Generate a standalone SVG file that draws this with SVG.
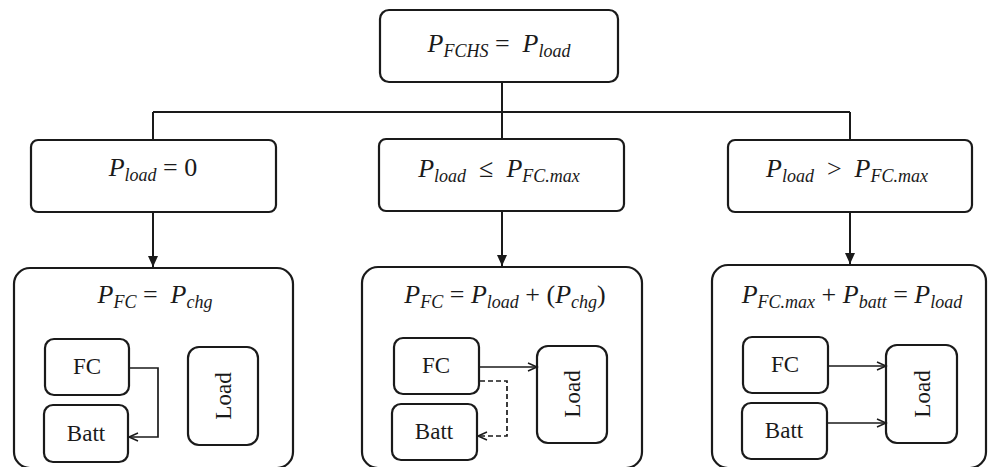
<svg xmlns="http://www.w3.org/2000/svg" width="989" height="467" viewBox="0 0 989 467">
<style>
.box{fill:#fff;stroke:#1a1a1a;stroke-width:2.2}
.in{fill:#fff;stroke:#1a1a1a;stroke-width:2.2}
.ln{fill:none;stroke:#1a1a1a;stroke-width:2}
.thin{fill:none;stroke:#1a1a1a;stroke-width:1.7}
.dash{fill:none;stroke:#1a1a1a;stroke-width:1.7;stroke-dasharray:5,3}
.m{font-family:"Liberation Serif",serif;font-style:italic;font-size:26px;fill:#1a1a1a;white-space:pre}
.s{font-size:18px}
.op{font-style:normal}
.lb{font-family:"Liberation Serif",serif;font-size:23px;fill:#1a1a1a}
</style>
<defs>
<marker id="fa" markerUnits="userSpaceOnUse" markerWidth="12" markerHeight="12" refX="11" refY="6" orient="auto"><path d="M0,1 L11,6 L0,11 z" fill="#1a1a1a"/></marker>
<marker id="oa" markerUnits="userSpaceOnUse" markerWidth="12" markerHeight="12" refX="10" refY="6" orient="auto"><path d="M1,2 L10,6 L1,10" fill="none" stroke="#1a1a1a" stroke-width="1.5"/></marker>
</defs>
<rect width="989" height="467" fill="#fff"/>
<g id="top">
<rect class="box" x="380" y="10" width="238" height="72" rx="9"/>
<text class="m" x="499" y="52" text-anchor="middle" xml:space="preserve">P<tspan class="s" dy="5">FCHS</tspan><tspan class="op" dy="-5"> =  </tspan>P<tspan class="s" dy="5">load</tspan></text>
</g>
<g id="cond1">
<rect class="box" x="31" y="140" width="245" height="72" rx="7"/>
<text class="m" x="153" y="176" text-anchor="middle" xml:space="preserve">P<tspan class="s" dy="5">load</tspan><tspan class="op" dy="-5"> = 0</tspan></text>
</g>
<g id="cond2">
<rect class="box" x="379" y="139" width="245" height="72" rx="7"/>
<text class="m" x="499" y="177" text-anchor="middle" xml:space="preserve">P<tspan class="s" dy="5">load</tspan><tspan class="op" dy="-5">  ≤  </tspan>P<tspan class="s" dy="5">FC.max</tspan></text>
</g>
<g id="cond3">
<rect class="box" x="728" y="140" width="244" height="72" rx="7"/>
<text class="m" x="847" y="177" text-anchor="middle" xml:space="preserve">P<tspan class="s" dy="5">load</tspan><tspan class="op" dy="-5">  &gt;  </tspan>P<tspan class="s" dy="5">FC.max</tspan></text>
</g>
<g id="mode1">
<rect class="box" x="14" y="268" width="279" height="200" rx="16"/>
<text class="m" x="155" y="303" text-anchor="middle" xml:space="preserve">P<tspan class="s" dy="5">FC</tspan><tspan class="op" dy="-5"> =  </tspan>P<tspan class="s" dy="5">chg</tspan></text>
</g>
<g id="mode2">
<rect class="box" x="362" y="267" width="280" height="201" rx="16"/>
<text class="m" x="505" y="303" text-anchor="middle" xml:space="preserve">P<tspan class="s" dy="5">FC</tspan><tspan class="op" dy="-5"> = </tspan>P<tspan class="s" dy="5">load</tspan><tspan class="op" dy="-5"> + (</tspan>P<tspan class="s" dy="5">chg</tspan><tspan class="op" dy="-5">)</tspan></text>
</g>
<g id="mode3">
<rect class="box" x="712" y="265" width="274" height="203" rx="16"/>
<text class="m" x="852" y="303" text-anchor="middle" xml:space="preserve">P<tspan class="s" dy="5">FC.max</tspan><tspan class="op" dy="-5"> + </tspan>P<tspan class="s" dy="5">batt</tspan><tspan class="op" dy="-5"> = </tspan>P<tspan class="s" dy="5">load</tspan></text>
</g>
<g id="fc1"><rect class="in" x="45" y="339" width="84" height="56" rx="9"/><text class="lb" x="87" y="374" text-anchor="middle">FC</text></g>
<g id="batt1"><rect class="in" x="44" y="405" width="84" height="57" rx="9"/><text class="lb" x="86" y="441" text-anchor="middle">Batt</text></g>
<g id="load1"><rect class="in" x="188" y="347" width="70" height="98" rx="11"/><text class="lb" transform="translate(231,396) rotate(-90)" text-anchor="middle">Load</text></g>
<g id="fc2"><rect class="in" x="394" y="338" width="85" height="56" rx="9"/><text class="lb" x="436" y="373" text-anchor="middle">FC</text></g>
<g id="batt2"><rect class="in" x="392" y="404" width="85" height="56" rx="9"/><text class="lb" x="434" y="439" text-anchor="middle">Batt</text></g>
<g id="load2"><rect class="in" x="537" y="346" width="70" height="97" rx="11"/><text class="lb" transform="translate(580,394) rotate(-90)" text-anchor="middle">Load</text></g>
<g id="fc3"><rect class="in" x="743" y="337" width="85" height="56" rx="9"/><text class="lb" x="785" y="372" text-anchor="middle">FC</text></g>
<g id="batt3"><rect class="in" x="742" y="403" width="85" height="56" rx="9"/><text class="lb" x="784" y="438" text-anchor="middle">Batt</text></g>
<g id="load3"><rect class="in" x="886" y="345" width="71" height="98" rx="11"/><text class="lb" transform="translate(930,394) rotate(-90)" text-anchor="middle">Load</text></g>
<g id="connectors">
<path class="ln" d="M502,82 V112 M153,112 H850 M153,112 V140 M502,112 V139 M850,112 V140"/>
<path class="ln" d="M153,212 V267" marker-end="url(#fa)"/>
<path class="ln" d="M502,211 V266" marker-end="url(#fa)"/>
<path class="ln" d="M850,212 V264" marker-end="url(#fa)"/>
<path class="thin" d="M130,368 H158 V437 H129" marker-end="url(#oa)"/>
<path class="thin" d="M480,367 H537" marker-end="url(#oa)"/>
<path class="dash" d="M480,381 H507 V436 H478" marker-end="url(#oa)"/>
<path class="thin" d="M829,366 H886" marker-end="url(#oa)"/>
<path class="thin" d="M828,423 H886" marker-end="url(#oa)"/>
</g>
</svg>
